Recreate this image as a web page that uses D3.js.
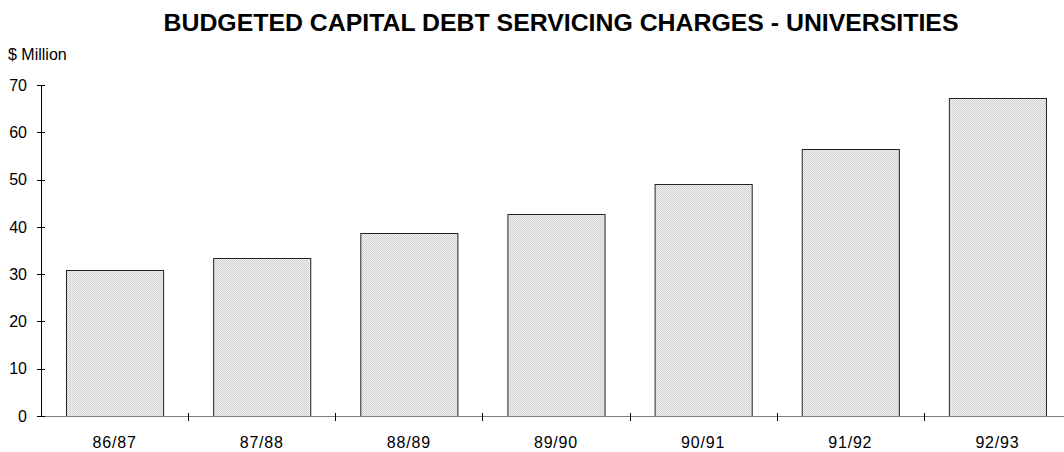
<!DOCTYPE html>
<html>
<head>
<meta charset="utf-8">
<script src="https://cdn.jsdelivr.net/npm/d3@7"></script>
<style>
  html, body { margin: 0; padding: 0; background: #fff; }
  svg { display: block; font-family: Arial, "Liberation Sans", sans-serif; }
</style>
</head>
<body>
<svg id="chart" width="1064" height="452"></svg>
<script>
// Budgeted capital debt servicing charges for universities, $ million
const years = ["86/87", "87/88", "88/89", "89/90", "90/91", "91/92", "92/93"];
const charges = [30.9, 33.4, 38.8, 42.7, 49.0, 56.5, 67.2];
const yTicks = [0, 10, 20, 30, 40, 50, 60, 70];

const svg = d3.select("#chart");
const W = 1064;
const left = 41, zeroY = 416, topY = 85;

const x = d3.scaleBand()
  .domain(years)
  .range([left, 1071])
  .paddingInner(0.34)
  .paddingOuter(0.17);

const y = d3.scaleLinear().domain([0, 70]).range([zeroY, topY]);

// fine dotted fill for the bars
const defs = svg.append("defs");
const pat = defs.append("pattern")
  .attr("id", "dots").attr("width", 2).attr("height", 2)
  .attr("patternUnits", "userSpaceOnUse");
pat.append("rect").attr("width", 2).attr("height", 2).attr("fill", "#efefef");
pat.append("rect").attr("width", 1).attr("height", 1).attr("fill", "#cdcdcd");
pat.append("rect").attr("x", 1).attr("y", 1).attr("width", 1).attr("height", 1).attr("fill", "#d8d8d8");

// title, condensed to its printed width
svg.append("text")
  .attr("x", 561).attr("y", 31)
  .attr("text-anchor", "middle")
  .attr("font-size", 24).attr("font-weight", "bold")
  .attr("textLength", 795)
  .attr("lengthAdjust", "spacingAndGlyphs")
  .text("BUDGETED CAPITAL DEBT SERVICING CHARGES - UNIVERSITIES");

// unit label
svg.append("text")
  .attr("x", 8).attr("y", 60)
  .attr("font-size", 16)
  .text("$ Million");

// bars
svg.append("g").selectAll("rect")
  .data(years.map((c, i) => ({ c, v: charges[i] })))
  .join("rect")
  .attr("x", d => x(d.c) + 0.5)
  .attr("y", d => Math.round(y(d.v)) + 0.5)
  .attr("width", x.bandwidth())
  .attr("height", d => zeroY - Math.round(y(d.v)))
  .attr("fill", "url(#dots)")
  .attr("stroke", "#222")
  .attr("stroke-width", 1);

// x axis line and category ticks at band boundaries
const gx = svg.append("g");
gx.append("line")
  .attr("x1", left).attr("x2", W)
  .attr("y1", zeroY + 0.5).attr("y2", zeroY + 0.5)
  .attr("stroke", "#808080");
const edge = x.step() * x.paddingInner() / 2;
gx.selectAll("line.tick")
  .data(years)
  .join("line")
  .attr("class", "tick")
  .attr("x1", d => Math.round(x(d) + x.bandwidth() + edge) + 0.5)
  .attr("x2", d => Math.round(x(d) + x.bandwidth() + edge) + 0.5)
  .attr("y1", zeroY - 3).attr("y2", zeroY + 5)
  .attr("stroke", "#000");
gx.selectAll("text")
  .data(years)
  .join("text")
  .attr("x", d => x(d) + x.bandwidth() / 2)
  .attr("y", 448)
  .attr("text-anchor", "middle")
  .attr("font-size", 16)
  .attr("letter-spacing", 0.8)
  .text(d => d);

// y axis
const gy = svg.append("g");
gy.append("line")
  .attr("x1", left + 0.5).attr("x2", left + 0.5)
  .attr("y1", y(70)).attr("y2", zeroY + 1)
  .attr("stroke", "#000");
gy.selectAll("line.tick")
  .data(yTicks)
  .join("line")
  .attr("class", "tick")
  .attr("x1", left - 4).attr("x2", left + 4)
  .attr("y1", d => Math.round(y(d)) + 0.5)
  .attr("y2", d => Math.round(y(d)) + 0.5)
  .attr("stroke", "#000");
gy.selectAll("text")
  .data(yTicks)
  .join("text")
  .attr("x", 27)
  .attr("y", d => y(d))
  .attr("dy", "0.36em")
  .attr("text-anchor", "end")
  .attr("font-size", 16)
  .text(d => d);
</script>
</body>
</html>
